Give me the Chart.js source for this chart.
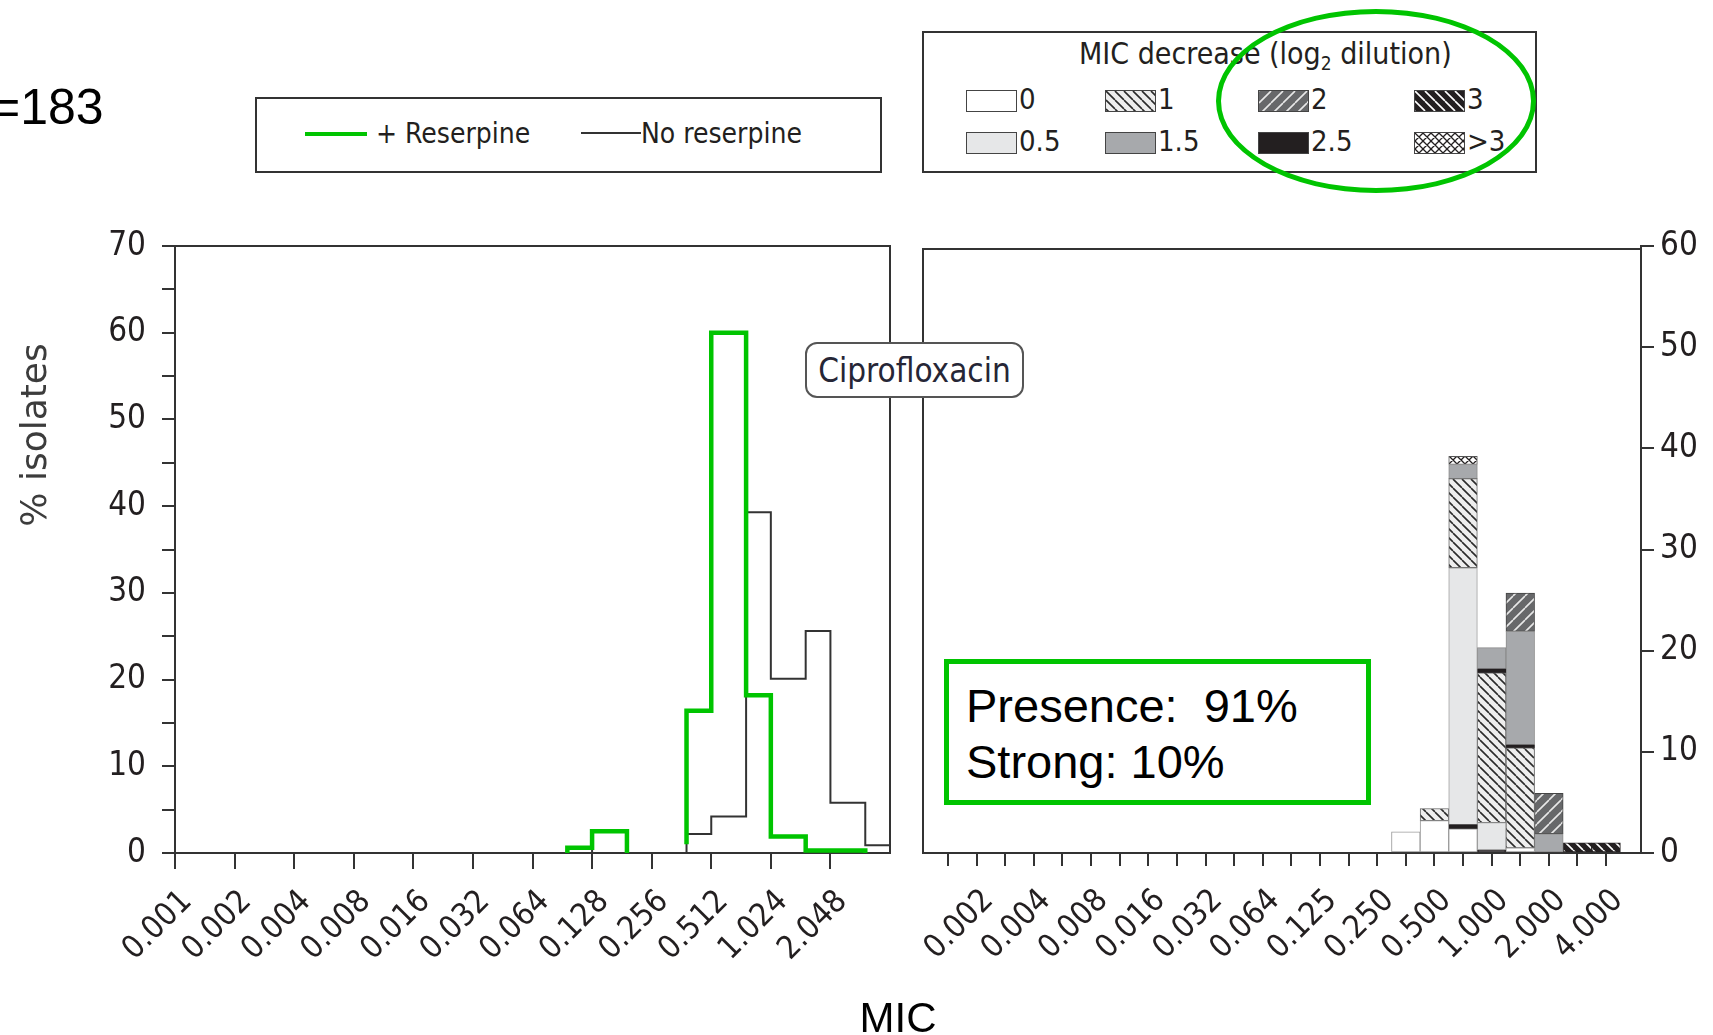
<!DOCTYPE html>
<html>
<head>
<meta charset="utf-8">
<title>Ciprofloxacin MIC distribution</title>
<script src="https://cdn.jsdelivr.net/npm/chart.js@4.4.1/dist/chart.umd.min.js"></script>
<style>
  html, body { margin: 0; padding: 0; background: #fff; }
  #page { position: relative; width: 1713px; height: 1035px; overflow: hidden; color: #231f20;
          font-family: "DejaVu Sans Condensed", "DejaVu Sans", sans-serif; }
  #page > * { position: absolute; }
  .arial { font-family: "Liberation Sans", Arial, sans-serif; color: #000; }
  .box { border: 2px solid #333; box-sizing: border-box; }
  .t28 { font-size: 28px; line-height: 1; white-space: nowrap; }
  .t29 { font-size: 29px; line-height: 1; white-space: nowrap; }
  .sw { border: 1px solid #444; box-sizing: border-box; }
</style>
</head>
<body>
<div id="page">
  <div class="arial" style="left:-9px;top:82px;font-size:50px;line-height:1;">=183</div>

  <!-- line legend -->
  <div class="box" style="left:255px;top:97px;width:627px;height:76px;"></div>
  <div style="left:305px;top:132px;width:62px;height:4px;background:#00c400;"></div>
  <div class="t28" style="left:376px;top:120px;">+ Reserpine</div>
  <div style="left:581px;top:132px;width:60px;height:2px;background:#333;"></div>
  <div class="t28" style="left:641px;top:120px;">No reserpine</div>

  <!-- MIC decrease legend -->
  <div class="box" style="left:922px;top:31px;width:615px;height:142px;"></div>
  <div style="left:1079px;top:39px;font-size:30px;line-height:1;white-space:nowrap;">MIC decrease (log<sub style="font-size:19px;vertical-align:-6px;">2</sub> dilution)</div>
  <div id="legendItems"></div>

  <div style="left:1216px;top:9px;width:320px;height:184px;border:5px solid #00c400;border-radius:50%;box-sizing:border-box;z-index:3;"></div>

  <canvas id="leftChart" width="900" height="835" style="left:0;top:200px;"></canvas>
  <canvas id="rightChart" width="800" height="835" style="left:913px;top:200px;"></canvas>

  <div style="left:805px;top:342px;width:219px;height:56px;border:2px solid #555;border-radius:12px;box-sizing:border-box;background:#fff;z-index:2;
              display:flex;align-items:center;justify-content:center;font-size:33px;color:#262636;">Ciprofloxacin</div>

  <div style="left:944px;top:659px;width:427px;height:146px;border:5px solid #00c400;box-sizing:border-box;background:#fff;z-index:2;"></div>
  <div class="arial" style="left:966px;top:678px;font-size:47px;line-height:56px;white-space:pre;z-index:3;">Presence:  91%
Strong: 10%</div>

  <div style="left:-116px;top:415px;width:300px;height:40px;line-height:40px;text-align:center;transform:rotate(-90deg);
              font-family:'DejaVu Sans',sans-serif;font-size:36px;color:#3c3c3c;">% isolates</div>
  <div class="arial" style="left:798px;top:997px;width:200px;text-align:center;font-size:42px;line-height:1;">MIC</div>
</div>

<script>
// Left panel: % isolates by MIC (mg/L), step outline
const leftTicks = ['0.001', '0.002', '0.004', '0.008', '0.016', '0.032', '0.064', '0.128', '0.256', '0.512', '1.024', '2.048'];
const noResMic = [0.096, 0.096, 0.128, 0.384, 0.512, 0.768, 1.024, 1.536, 2.048, 3.072, 4.096];
const noResPct = [0, 0.5, 0, 2.2, 4.2, 39.3, 20.1, 25.6, 5.8, 0.9, 0.9];
const resMic = [0.096, 0.096, 0.128, 0.192, 0.256, 0.384, 0.384, 0.512, 0.768, 1.024, 1.536, 3.072];
const resPct = [0, 0.6, 2.5, 0, null, 1, 16.4, 60, 18.2, 1.9, 0.3, 0];

// Right panel: MIC decrease (log2 dilution) stacked by MIC
const rightTicks = ['0.0015', '0.002', '0.003', '0.004', '0.006', '0.008', '0.012', '0.016', '0.023', '0.032', '0.047', '0.064',
                    '0.094', '0.125', '0.19', '0.250', '0.38', '0.500', '0.75', '1.000', '1.5', '2.000', '3', '4.000'];
const rightLabels = ['', '0.002', '', '0.004', '', '0.008', '', '0.016', '', '0.032', '', '0.064',
                     '', '0.125', '', '0.250', '', '0.500', '', '1.000', '', '2.000', '', '4.000'];
const barMic = ['0.38', '0.500', '0.75', '1.000', '1.5', '2.000', '3', '4.000'];
const dec0   = [2.1, 3.2, 2.4,  0,    0.5,  0,   0,   0];
const dec25a = [0,   0,   0.4,  0.3,  0,    0,   0,   0];
const dec05  = [0,   0,   25.4, 2.7,  0,    0,   0,   0];
const dec1   = [0,   1.2, 8.8,  14.8, 9.9,  0,   0,   0];
const dec25b = [0,   0,   0,    0.4,  0.3,  0,   0,   0];
const dec15  = [0,   0,   1.4,  2.1,  11.2, 1.9, 0,   0];
const dec2   = [0,   0,   0,    0,    3.8,  4.0, 0,   0];
const dec3   = [0,   0,   0,    0,    0,    0,   1.0, 1.0];
const decGt3 = [0,   0,   0.8,  0,    0,    0,   0,   0];

const legendRows = [['0', '1', '2', '3'], ['0.5', '1.5', '2.5', '>3']];

const FONT = 'DejaVu Sans Condensed, DejaVu Sans, sans-serif';
const INK = '#231f20';

function hatch(bg, fg, dir, size, lw) {
  const c = document.createElement('canvas');
  c.width = c.height = size;
  const g = c.getContext('2d');
  g.fillStyle = bg;
  g.fillRect(0, 0, size, size);
  g.strokeStyle = fg;
  g.lineWidth = lw;
  g.beginPath();
  for (const k of [-size, 0, size]) {
    if (dir !== '/') { g.moveTo(k, 0); g.lineTo(k + size, size); }
    if (dir !== '\\') { g.moveTo(k, size); g.lineTo(k + size, 0); }
  }
  g.stroke();
  return g.createPattern(c, 'repeat');
}

const fills = {
  '0': '#ffffff',
  '0.5': '#e6e7e8',
  '1': hatch('#eeeeee', '#2b2b2b', '\\', 9, 1.6),
  '1.5': '#a7a9ac',
  '2': hatch('#67686a', '#e8e8e8', '/', 12, 1.6),
  '2.5': '#231f20',
  '3': hatch('#231f20', '#ffffff', '\\', 10, 1.6),
  '>3': hatch('#ffffff', '#231f20', 'x', 8, 1.3)
};
const edges = {
  '0': '#9a9a9a', '0.5': '#a0a0a0', '1': '#666', '1.5': '#8c8c8c',
  '2': '#444', '2.5': '#231f20', '3': '#231f20', '>3': '#555'
};

// legend swatches
const legendItems = document.getElementById('legendItems');
const colX = [966, 1105, 1258, 1414];
const rowY = [90, 132];
legendRows.forEach((row, r) => row.forEach((lvl, c) => {
  const cv = document.createElement('canvas');
  cv.width = 49; cv.height = 20;
  cv.className = 'sw';
  cv.style.cssText = `position:absolute;left:${colX[c]}px;top:${rowY[r]}px;`;
  const g = cv.getContext('2d');
  g.fillStyle = fills[lvl];
  g.fillRect(0, 0, 49, 20);
  legendItems.appendChild(cv);
  const t = document.createElement('div');
  t.className = 't29';
  t.style.cssText = `position:absolute;left:${colX[c] + 53}px;top:${rowY[r] - 5}px;`;
  t.textContent = lvl;
  legendItems.appendChild(t);
}));

const frame = {
  id: 'frame',
  afterDraw(chart, args, o) {
    const { ctx, chartArea: a } = chart;
    ctx.save();
    ctx.strokeStyle = '#333';
    ctx.lineWidth = 2;
    ctx.beginPath();
    if (o.side === 'right') {
      ctx.moveTo(a.left, a.bottom); ctx.lineTo(a.left, a.top + 3); ctx.lineTo(a.right, a.top + 3);
    } else {
      ctx.moveTo(a.left, a.top); ctx.lineTo(a.right, a.top); ctx.lineTo(a.right, a.bottom);
    }
    ctx.stroke();
    ctx.restore();
  }
};

const pos = m => Math.log2(m / 0.001);
const tickFont = { family: FONT, size: 32 };
const axisGrid = len => ({ display: true, drawOnChartArea: false, drawTicks: true, tickLength: len, color: '#333', lineWidth: 2 });
const axisBorder = { display: true, color: '#333', width: 2 };
const fixY = w => s => { s.width = w; s.paddingTop = 0; s.paddingBottom = 0; };
const fixX = h => s => { s.height = h; s.paddingLeft = 0; s.paddingRight = 0; };

new Chart(document.getElementById('leftChart'), {
  type: 'line',
  data: {
    datasets: [
      {
        label: '+ Reserpine',
        data: resMic.map((m, i) => ({ x: pos(m), y: resPct[i] })),
        stepped: true, borderColor: '#00c400', borderWidth: 4.5, pointRadius: 0, fill: false, spanGaps: false
      },
      {
        label: 'No reserpine',
        data: noResMic.map((m, i) => ({ x: pos(m), y: noResPct[i] })),
        stepped: true, borderColor: '#333', borderWidth: 2, pointRadius: 0, fill: false
      }
    ]
  },
  options: {
    responsive: false,
    animation: false,
    layout: { padding: { top: 46, right: 10, left: 0, bottom: 0 } },
    plugins: { legend: { display: false }, tooltip: { enabled: false }, frame: { side: 'left' } },
    scales: {
      x: {
        type: 'linear', min: 0, max: 12,
        afterBuildTicks: s => { s.ticks = leftTicks.map((t, i) => ({ value: i })); },
        afterFit: fixX(182),
        ticks: { autoSkip: false, minRotation: 45, maxRotation: 45, padding: 14, labelOffset: 12, color: INK, font: tickFont,
                 callback: v => leftTicks[v] ?? '' },
        grid: axisGrid(16), border: axisBorder
      },
      y: {
        min: 0, max: 70,
        afterFit: fixY(175),
        ticks: { stepSize: 5, autoSkip: false, padding: 16, color: INK, font: { family: FONT, size: 33 },
                 callback: v => (v % 10 === 0 ? v : '') },
        grid: axisGrid(13), border: axisBorder
      }
    }
  },
  plugins: [frame]
});

const layers = [['0', dec0], ['2.5', dec25a], ['0.5', dec05], ['1', dec1], ['2.5', dec25b],
                ['1.5', dec15], ['2', dec2], ['3', dec3], ['>3', decGt3]];

new Chart(document.getElementById('rightChart'), {
  type: 'bar',
  data: {
    datasets: layers.map(([lvl, vals]) => ({
      label: lvl,
      data: barMic.map((m, i) => ({ x: rightTicks.indexOf(m), y: vals[i] })).filter(p => p.y > 0),
      backgroundColor: fills[lvl], borderColor: edges[lvl], borderWidth: 1, borderSkipped: false,
      categoryPercentage: 1, barPercentage: 1
    }))
  },
  options: {
    responsive: false,
    animation: false,
    layout: { padding: { top: 46, right: 0, left: 10, bottom: 0 } },
    plugins: { legend: { display: false }, tooltip: { enabled: false }, frame: { side: 'right' } },
    scales: {
      x: {
        type: 'linear', min: -0.874, max: 24.22, stacked: true, offset: false,
        afterBuildTicks: s => { s.ticks = rightTicks.map((t, i) => ({ value: i })); },
        afterFit: fixX(182),
        ticks: { autoSkip: false, minRotation: 45, maxRotation: 45, padding: 16, labelOffset: 12, color: INK, font: tickFont,
                 callback: v => rightLabels[v] ?? '' },
        grid: Object.assign(axisGrid(13), { offset: false }), border: axisBorder
      },
      y: {
        position: 'right', min: 0, max: 60, stacked: true,
        afterFit: fixY(72),
        ticks: { stepSize: 10, padding: 6, color: INK, font: { family: FONT, size: 33 } },
        grid: axisGrid(13), border: axisBorder
      }
    }
  },
  plugins: [frame]
});
</script>
</body>
</html>
